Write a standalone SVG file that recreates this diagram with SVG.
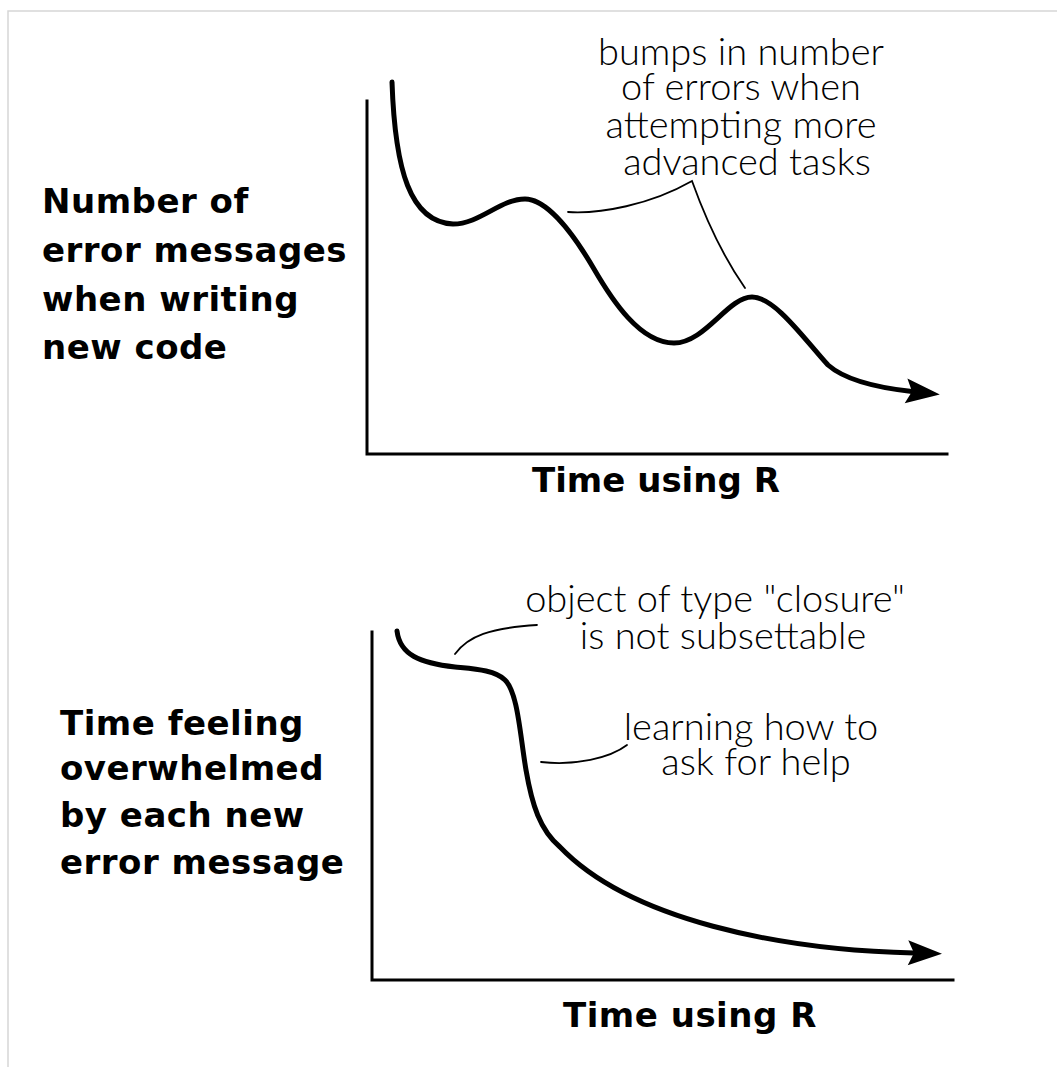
<svg xmlns="http://www.w3.org/2000/svg" width="1057" height="1067" viewBox="0 0 1057 1067">
  <style>
    .axis { fill: none; stroke: #000; stroke-width: 3; stroke-linecap: square; }
    .curve { fill: none; stroke: #000; stroke-width: 5; stroke-linecap: round; stroke-linejoin: round; }
    .leader { fill: none; stroke: #000; stroke-width: 1.8; stroke-linecap: round; }
    .label { font-family: "DejaVu Sans", "Liberation Sans", sans-serif; font-weight: bold; font-size: 34px; letter-spacing: 0.5px; fill: #000; }
    .xtitle { font-family: "DejaVu Sans", "Liberation Sans", sans-serif; font-weight: bold; font-size: 34px; fill: #000; }
    .note { font-family: "Lato", "Open Sans", "Liberation Sans", sans-serif; font-weight: 300; font-size: 38px; fill: #000; text-anchor: middle; }
  </style>
  <defs>
    <marker id="arrow" markerUnits="userSpaceOnUse" markerWidth="40" markerHeight="30" refX="6" refY="12.5" orient="auto" overflow="visible">
      <path d="M0,0 L34,12.5 L0,25 L6,12.5 Z" fill="#000"/>
    </marker>
  </defs>
  <rect width="1057" height="1067" fill="#fff"/>
  <path d="M8,1067 L8,11 L1057,11" fill="none" stroke="#d6d6d6" stroke-width="1.5"/>

  <g id="chart-errors">
    <path class="axis" d="M367,101 L367,454 L947,454"/>
    <path class="curve" marker-end="url(#arrow)" d="M392,82 C395,170 410,222 453,224 C480,224 500,199 525,199 C545,199 570,228 594,269 C612,300 640,343 674,343 C705,343 728,297 752,297 C775,297 805,340 828,365 C845,380 880,388 912,391.5"/>
    <text class="label" x="42" y="213">Number of</text>
    <text class="label" x="42" y="262">error messages</text>
    <text class="label" x="42" y="311">when writing</text>
    <text class="label" x="42" y="359">new code</text>
    <text class="xtitle" x="532" y="492">Time using R</text>
    <text class="note" x="741" y="65">bumps in number</text>
    <text class="note" x="741" y="100">of errors when</text>
    <text class="note" x="741" y="138">attempting more</text>
    <text class="note" x="747" y="175">advanced tasks</text>
  </g>

  <g id="chart-overwhelmed">
    <path class="axis" d="M372,632 L372,980 L953,980"/>
    <path class="curve" marker-end="url(#arrow)" d="M397,631 C400,655 420,663 455,667 C475,669 495,670 505,680 C518,693 520,735 526,770 C532,805 540,830 560,847 C630,920 780,950 914,953"/>
    <text class="label" x="60" y="735">Time feeling</text>
    <text class="label" x="60" y="780">overwhelmed</text>
    <text class="label" x="60" y="827">by each new</text>
    <text class="label" x="60" y="874">error message</text>
    <text class="xtitle" x="563" y="1027" letter-spacing="0.5">Time using R</text>
    <text class="note" x="715" y="612">object of type "closure"</text>
    <text class="note" x="723" y="649">is not subsettable</text>
    <text class="note" x="751" y="740">learning how to</text>
    <text class="note" x="756" y="775">ask for help</text>
  </g>

  <g id="connectors">
    <path class="leader" d="M568,212 C600,214 650,205 692,181 Q715,245 745,288"/>
    <path class="leader" d="M455,654 C468,636 490,628 537,625"/>
    <path class="leader" d="M541,762 C575,766 610,758 627,745"/>
  </g>
</svg>
